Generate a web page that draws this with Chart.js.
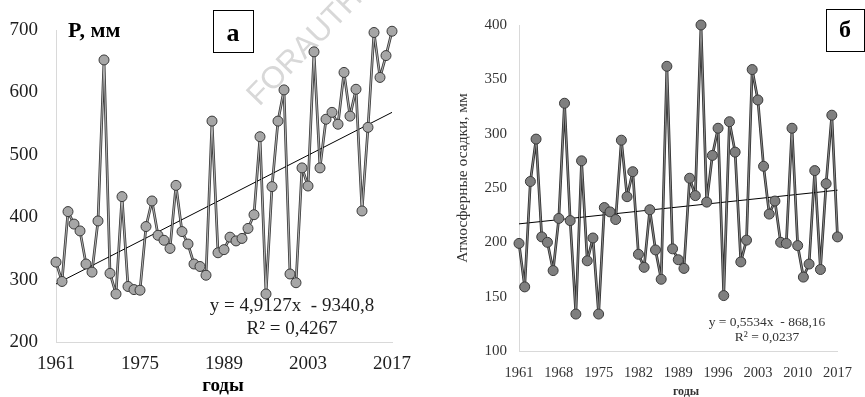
<!DOCTYPE html>
<html>
<head>
<meta charset="utf-8">
<script src="https://cdn.jsdelivr.net/npm/chart.js@4"></script>
<style>
html,body{margin:0;padding:0;background:#fff;width:865px;height:397px;overflow:hidden}
.pane{position:absolute;top:0;height:397px}
</style>
</head>
<body>
<div class="pane" style="left:0;width:432px"><canvas id="ca" width="432" height="397"></canvas></div>
<div class="pane" style="left:432px;width:433px"><canvas id="cb" width="433" height="397"></canvas></div>
<script>
// ---- data ----
const years = [1961,1962,1963,1964,1965,1966,1967,1968,1969,1970,1971,1972,1973,1974,1975,1976,1977,1978,1979,1980,
1981,1982,1983,1984,1985,1986,1987,1988,1989,1990,1991,1992,1993,1994,1995,1996,1997,1998,1999,2000,
2001,2002,2003,2004,2005,2006,2007,2008,2009,2010,2011,2012,2013,2014,2015,2016,2017];
const precipA = [328,297,409,389,378,325,312,394,652,310,277,433,289,284,283,385,426,371,363,350,
451,377,357,325,321,307,554,343,348,368,362,366,382,404,529,277,449,554,604,309,
295,479,450,665,479,557,568,549,632,562,605,410,544,696,624,659,698];
const precipB = [199,159,256,295,205,200,174,222,328,220,134,275,183,204,134,232,228,221,294,242,
265,189,177,230,193,166,362,194,184,176,259,243,400,237,280,305,151,311,283,182,
202,359,331,270,226,238,200,199,305,197,168,180,266,175,254,317,205];
const trendYears = [1961, 2017];
const trendA = [293, 568];
const trendB = [217, 248];
const xTicksA = [1961,1975,1989,2003,2017];
const yTicksA = [200,300,400,500,600,700];
const xTicksB = [1961,1968,1975,1982,1989,1996,2003,2010,2017];
const yTicksB = [100,150,200,250,300,350,400];

const SERIF = '"Liberation Serif","Times New Roman",serif';

const annot = {
  id: 'annot',
  beforeDatasetsDraw(chart, args, opts) {
    const ctx = chart.ctx;
    (opts.behind || []).forEach(t => drawText(ctx, t));
  },
  afterDraw(chart, args, opts) {
    const ctx = chart.ctx;
    (opts.boxes || []).forEach(b => {
      ctx.save();
      ctx.strokeStyle = '#000'; ctx.lineWidth = 1;
      ctx.strokeRect(b.x + 0.5, b.y + 0.5, b.w, b.h);
      ctx.restore();
    });
    (opts.items || []).forEach(t => drawText(ctx, t));
  }
};
function drawText(ctx, t) {
  ctx.save();
  ctx.font = t.font;
  ctx.fillStyle = t.color || '#000';
  ctx.textAlign = t.align || 'center';
  ctx.textBaseline = 'middle';
  ctx.translate(t.x, t.y);
  if (t.rot) ctx.rotate(t.rot);
  ctx.fillText(t.text, 0, 0);
  ctx.restore();
}

function pts(xs, ys) { return xs.map((x, i) => ({x: x, y: ys[i]})); }

function makeChart(id, cfg) {
  return new Chart(document.getElementById(id), {
    type: 'line',
    data: {
      datasets: [
        { data: pts(years, cfg.values), borderColor: cfg.lineTop, borderWidth: 1,
          borderJoinStyle: 'round', borderCapStyle: 'round',
          pointRadius: cfg.r, pointBackgroundColor: cfg.fill, pointBorderColor: '#3a3a3a',
          pointBorderWidth: 1, tension: 0, clip: false, order: 1 },
        { data: pts(trendYears, cfg.trend), borderColor: '#000', borderWidth: 1,
          pointRadius: 0, tension: 0, clip: false, order: 2 },
        { data: pts(years, cfg.values), borderColor: cfg.lineOut, borderWidth: 2.7,
          borderJoinStyle: 'round', borderCapStyle: 'round',
          pointRadius: 0, tension: 0, clip: false, order: 3 }
      ]
    },
    options: {
      responsive: false, animation: false, devicePixelRatio: 1,
      layout: { padding: cfg.padding },
      plugins: { legend: { display: false }, tooltip: { enabled: false }, annot: cfg.annot },
      scales: {
        x: {
          type: 'linear', min: 1961, max: 2017,
          grid: { display: false, drawTicks: false },
          border: { display: true, color: '#d9d9d9', width: 1 },
          afterBuildTicks: s => { s.ticks = cfg.xTicks.map(v => ({ value: v })); },
          afterFit: s => { s.height = cfg.xH; },
          ticks: { callback: v => String(v), font: { family: SERIF, size: cfg.fs }, color: cfg.tc,
                   padding: cfg.xPad, maxRotation: 0, autoSkip: false }
        },
        y: {
          min: cfg.yMin, max: cfg.yMax,
          grid: { display: false, drawTicks: false },
          border: { display: true, color: '#d9d9d9', width: 1 },
          afterBuildTicks: s => { s.ticks = cfg.yTicks.map(v => ({ value: v })); },
          afterFit: s => { s.width = cfg.yW; },
          ticks: { callback: v => String(v), font: { family: SERIF, size: cfg.fsy }, color: cfg.tc,
                   padding: cfg.yPad }
        }
      }
    },
    plugins: [annot]
  });
}

makeChart('ca', {
  values: precipA, trend: trendA, xTicks: xTicksA, yTicks: yTicksA, yMin: 200, yMax: 700,
  r: 5, fill: '#a6a6a6', lineTop: '#b4b4b4', lineOut: '#3c3c3c',
  padding: { left: 0, right: 40, top: 30, bottom: 0 }, xH: 55, yW: 56,
  fs: 19, fsy: 19, tc: '#1e1e1e', xPad: 11, yPad: 18,
  annot: {
    behind: [
      { text: 'FORAUTHOR USE ONLY', x: 253, y: 101, align: 'left', rot: -0.8,
        font: '31px "Liberation Sans",Arial,sans-serif', color: '#d8d8d8' }
    ],
    boxes: [{ x: 213, y: 10, w: 40, h: 42 }],
    items: [
      { text: 'P, мм', x: 68, y: 31, align: 'left', font: 'bold 22px ' + SERIF },
      { text: 'а', x: 233, y: 34, font: 'bold 26px ' + SERIF },
      { text: 'y = 4,9127x  - 9340,8', x: 292, y: 306, font: '19px ' + SERIF, color: '#1e1e1e' },
      { text: 'R² = 0,4267', x: 292, y: 329, font: '19px ' + SERIF, color: '#1e1e1e' },
      { text: 'годы', x: 223, y: 386, font: 'bold 19px ' + SERIF }
    ]
  }
});

makeChart('cb', {
  values: precipB, trend: trendB, xTicks: xTicksB, yTicks: yTicksB, yMin: 100, yMax: 400,
  r: 5, fill: '#7f7f7f', lineTop: '#8a8a8a', lineOut: '#303030',
  padding: { left: 0, right: 18, top: 25, bottom: 0 }, xH: 46, yW: 87,
  fs: 14.5, fsy: 15, tc: '#333', xPad: 13, yPad: 12,
  annot: {
    behind: [],
    boxes: [{ x: 394, y: 9, w: 38, h: 42 }],
    items: [
      { text: 'б', x: 413, y: 31, font: 'bold 24px ' + SERIF },
      { text: 'Атмосферные осадки, мм', x: 31, y: 178, rot: -Math.PI / 2, font: '15.5px ' + SERIF, color: '#333' },
      { text: 'y = 0,5534x  - 868,16', x: 335, y: 322, font: '13.5px ' + SERIF, color: '#333' },
      { text: 'R² = 0,0237', x: 335, y: 337, font: '13.5px ' + SERIF, color: '#333' },
      { text: 'годы', x: 254, y: 392, font: 'bold 12px ' + SERIF, color: '#333' }
    ]
  }
});
</script>
</body>
</html>
